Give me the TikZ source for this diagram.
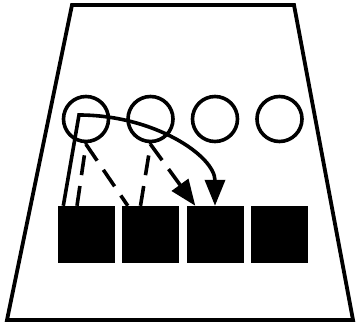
\documentclass[tikz,border=0pt]{standalone}
\usetikzlibrary{arrows.meta}

\begin{document}
\begin{tikzpicture}[x=1pt, y=1pt]

  % ---- sizing knobs ----
  \pgfmathsetlengthmacro{\QBpitch}{64.5pt}  % distance between slots
  \pgfmathsetlengthmacro{\QBxA}{86pt}       % first slot centre
  \pgfmathsetlengthmacro{\QBcirY}{207pt}    % row of circles
  \pgfmathsetlengthmacro{\QBsqY}{91.5pt}    % row of squares

  \definecolor{QBLine}{gray}{0.0}

  \useasboundingbox (0,0) rectangle (356,326);

  % ---- outline ----
  \draw[QBLine, line width=3.8pt, line join=miter]
    (72,321) -- (294,321) -- (353,6) -- (7,6) -- cycle;

  % ---- slots ----
  \tikzset{
    slotcircle/.style={circle, draw=QBLine, line width=3.6pt, minimum size=45pt, inner sep=0pt},
    slotsquare/.style={rectangle, fill=QBLine, minimum size=57pt, inner sep=0pt},
    hop/.style={QBLine, line width=3.6pt},
    hopdash/.style={hop, dash pattern=on 20pt off 11pt},
    hoptip/.style={-{Triangle[length=26pt, width=20pt]}}
  }

  \node[slotcircle] (c1) at (\QBxA, \QBcirY) {};
  \node[slotcircle] (c2) at (\QBxA + \QBpitch, \QBcirY) {};
  \node[slotcircle] (c3) at (\QBxA + 2*\QBpitch, \QBcirY) {};
  \node[slotcircle] (c4) at (\QBxA + 3*\QBpitch, \QBcirY) {};

  \node[slotsquare] (s1) at (\QBxA, \QBsqY) {};
  \node[slotsquare] (s2) at (\QBxA + \QBpitch, \QBsqY) {};
  \node[slotsquare] (s3) at (\QBxA + 2*\QBpitch, \QBsqY) {};
  \node[slotsquare] (s4) at (\QBxA + 3*\QBpitch, \QBsqY) {};

  % ---- moves ----
  \coordinate (turn) at (79,211);

  % solid: s1 up into c1, then over to s3
  \draw[hop, hoptip, line join=miter]
    ([xshift=6pt]s1.north west) -- (turn)
    .. controls (154,211) and ([yshift=50pt]s3.north) .. (s3.north);

  % dashed: s1 -> c1 -> s2
  \draw[hopdash]
    ([xshift=-9pt]s1.north) -- ([yshift=-1pt]c1.south) -- ([xshift=6pt]s2.north west);

  % dashed: s2 -> c2 -> s3
  \draw[hopdash, hoptip]
    ([xshift=-10pt]s2.north) -- ([yshift=-1pt]c2.south) -- ([xshift=9pt]s3.north west);

\end{tikzpicture}
\end{document}
